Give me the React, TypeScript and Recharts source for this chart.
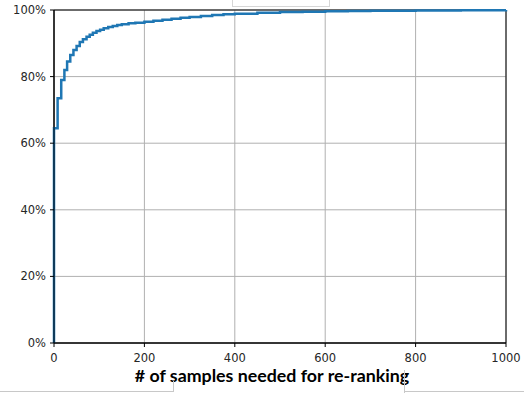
import React from 'react';
import { LineChart, Line, XAxis, YAxis, CartesianGrid, ReferenceArea } from 'recharts';

// sample counts (x) and cumulative share of queries (%)
const sampleCounts = [
  0, 0, 8, 16, 23, 29, 36, 43, 50, 57, 64, 72, 79, 86, 94, 102, 110, 120, 130, 140,
  150, 165, 180, 200, 220, 240, 260, 280, 300, 325, 350, 375, 400, 450, 500, 550,
  600, 650, 700, 800, 900, 1000,
];
const cumulativePct = [
  0, 64.5, 73.5, 79, 82, 84.5, 86.5, 88, 89.2, 90.4, 91.2, 92, 92.6, 93.2, 93.7, 94.1,
  94.5, 94.9, 95.2, 95.5, 95.7, 96.0, 96.2, 96.5, 96.8, 97.1, 97.4, 97.7, 97.9, 98.2,
  98.5, 98.7, 98.9, 99.2, 99.4, 99.5, 99.6, 99.7, 99.8, 99.85, 99.9, 100,
];
const xTicks = [0, 200, 400, 600, 800, 1000];
const yTicks = [0, 20, 40, 60, 80, 100];
const xLabel = '# of samples needed for re-ranking';

const data = sampleCounts.map((n, i) => ({ n, pct: cumulativePct[i] }));

const tickStyle = { fontFamily: 'DejaVu Sans', fontSize: 11.5, fill: '#262626' };

const App: React.FC = () => {
  return (
    <div style={{ position: 'absolute', left: 0, top: 0, width: 524, height: 393, background: '#fff' }}>
      <LineChart width={524} height={393} data={data} margin={{ top: 10, right: 18, bottom: 0, left: 0 }}>
        <CartesianGrid stroke="#b0b0b0" strokeWidth={1} />
        <XAxis
          dataKey="n"
          type="number"
          domain={[0, 1000]}
          ticks={xTicks}
          height={50}
          stroke="#000"
          tickSize={4}
          tickMargin={7}
          tick={tickStyle}
          label={{
            value: xLabel,
            position: 'insideBottom',
            offset: 11,
            dx: -8,
            style: { fontFamily: 'Lato', fontWeight: 700, fontSize: 17.8, fill: '#000' },
          }}
        />
        <YAxis
          type="number"
          domain={[0, 100]}
          ticks={yTicks}
          width={54}
          stroke="#000"
          tickSize={4}
          tickMargin={4}
          tick={tickStyle}
          tickFormatter={(v: number) => `${v}%`}
        />
        <ReferenceArea x1={0} x2={1000} y1={0} y2={100} fill="none" stroke="#000" strokeWidth={1} />
        <Line
          type="stepAfter"
          dataKey="pct"
          stroke="#1f77b4"
          strokeWidth={2.5}
          dot={false}
          isAnimationActive={false}
        />
      </LineChart>
      {/* screenshot crop edges */}
      <div style={{ position: 'absolute', left: 232, top: -1, width: 96, height: 6, border: '1px solid #d6d6d6', background: '#fff' }} />
      <div style={{ position: 'absolute', left: 0, top: 391, width: 173, height: 0, borderTop: '1px solid #c8c8c8' }} />
      <div style={{ position: 'absolute', left: 173, top: 381, width: 0, height: 11, borderLeft: '1px solid #c8c8c8' }} />
      <div style={{ position: 'absolute', left: 404, top: 370, width: 0, height: 23, borderLeft: '1px solid #c8c8c8' }} />
      <div style={{ position: 'absolute', left: 404, top: 391, width: 120, height: 0, borderTop: '1px solid #c8c8c8' }} />
    </div>
  );
};

export default App;
